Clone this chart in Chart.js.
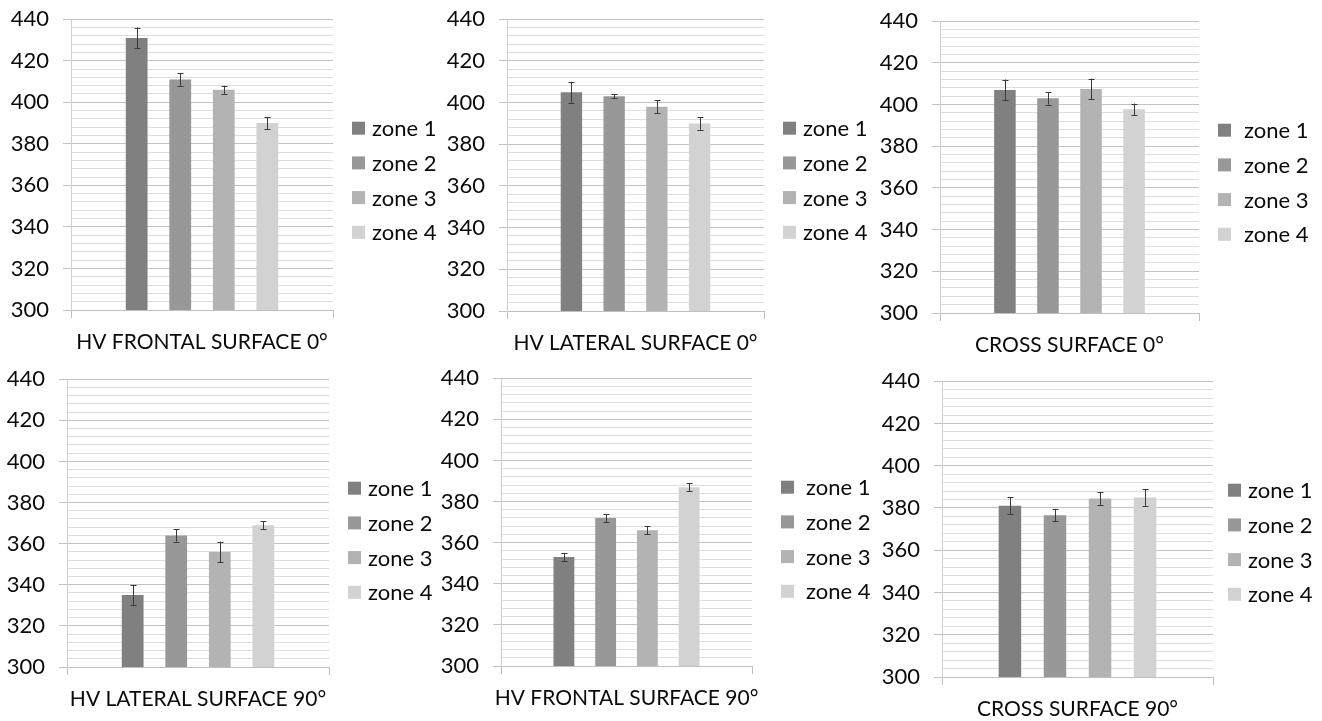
<!DOCTYPE html>
<html><head><meta charset="utf-8">
<script src="https://cdn.jsdelivr.net/npm/chart.js@4.4.1/dist/chart.umd.min.js"></script>
<style>
html,body{margin:0;padding:0;background:#fff;width:1322px;height:721px;overflow:hidden;}
.panel{position:absolute;}
</style></head><body>
<script>
// ---- data ----
const zones = ["zone 1", "zone 2", "zone 3", "zone 4"];
const panelTitles = ["HV FRONTAL SURFACE 0°", "HV LATERAL SURFACE 0°", "CROSS SURFACE 0°",
                     "HV LATERAL SURFACE 90°", "HV FRONTAL SURFACE 90°", "CROSS SURFACE 90°"];
const frontal0 = [431, 411, 406, 390];
const frontal0Err = [5, 3, 2, 3];
const lateral0 = [405, 403, 398, 390];
const lateral0Err = [5, 1, 3, 3];
const cross0 = [407, 403, 407.5, 397.7];
const cross0Err = [5, 3, 5, 2.8];
const lateral90 = [335, 364, 356, 369];
const lateral90Err = [5, 3, 5, 2];
const frontal90 = [353, 372, 366, 387];
const frontal90Err = [2, 2, 2, 2];
const cross90 = [381, 376.6, 384.5, 385];
const cross90Err = [4, 3, 3, 4];
const yMin = 300, yMax = 440, yMajor = 20, yMinor = 4;

const zoneColors = ["#808080", "#989898", "#b3b3b3", "#d2d2d2"];

const panelValues = [frontal0, lateral0, cross0, lateral90, frontal90, cross90];
const panelErrors = [frontal0Err, lateral0Err, cross0Err, lateral90Err, frontal90Err, cross90Err];

// ---- layout (plot area boxes in page pixels + legend placement) ----
const plotBoxes = [
  {l: 71,    r: 333,    t: 19,    b: 310,   lgX: 19, lgGap: 20},
  {l: 506.7, r: 763.7,  t: 19.3,  b: 311,   lgX: 19, lgGap: 20},
  {l: 940.3, r: 1199.3, t: 21.3,  b: 312.7, lgX: 19, lgGap: 26},
  {l: 67,    r: 329,    t: 379,   b: 667.3, lgX: 19, lgGap: 20},
  {l: 501,   r: 751.7,  t: 378.3, b: 665.7, lgX: 29, lgGap: 25},
  {l: 942,   r: 1212.7, t: 381.3, b: 677.3, lgX: 15, lgGap: 20}
];
const AXW = 70, XAXH = 50, RIGHTPAD = 130;
const FONT = "Lato, 'Open Sans', sans-serif";
const TEXT = '#0a0a0a';

const errorBarPlugin = {
  id: 'errorBars',
  afterDatasetsDraw(chart) {
    const ctx = chart.ctx, ys = chart.scales.y;
    const errs = chart.options.plugins.errorBars.errors;
    ctx.save();
    ctx.strokeStyle = '#3a3a3a';
    ctx.lineWidth = 1;
    chart.data.datasets.forEach((ds, i) => {
      const meta = chart.getDatasetMeta(i);
      meta.data.forEach((bar, j) => {
        const v = ds.data[j], e = errs[i];
        const x = Math.round(bar.x) + 0.5;
        const yt = ys.getPixelForValue(v + e), yb = ys.getPixelForValue(v - e);
        ctx.beginPath();
        ctx.moveTo(x, yt); ctx.lineTo(x, yb);
        ctx.moveTo(x - 3, Math.round(yt) + 0.5); ctx.lineTo(x + 3, Math.round(yt) + 0.5);
        ctx.moveTo(x - 3, Math.round(yb) + 0.5); ctx.lineTo(x + 3, Math.round(yb) + 0.5);
        ctx.stroke();
      });
    });
    ctx.restore();
  }
};

const sideLegendPlugin = {
  id: 'sideLegend',
  afterDraw(chart) {
    const o = chart.options.plugins.sideLegend;
    const ctx = chart.ctx, ca = chart.chartArea;
    ctx.save();
    ctx.font = "22px " + FONT;
    ctx.textBaseline = 'middle';
    chart.data.datasets.forEach((ds, i) => {
      const cy = ca.top + 109 + i * 34.7;
      const x0 = ca.right + o.x;
      ctx.fillStyle = ds.backgroundColor;
      ctx.fillRect(x0, cy - 6.5, 13, 13);
      ctx.fillStyle = TEXT;
      ctx.fillText(ds.label, x0 + o.gap, cy + 1);
    });
    ctx.restore();
  }
};

plotBoxes.forEach((p, k) => {
  const cv = document.createElement('canvas');
  let w = Math.round((p.r - p.l) + AXW + RIGHTPAD), h = Math.round((p.b - p.t) + 20 + XAXH);
  cv.className = 'panel';
  cv.style.width = w + 'px'; cv.style.height = h + 'px';
  cv.width = w; cv.height = h;
  document.body.appendChild(cv);

  const chart = new Chart(cv, {
    type: 'bar',
    data: {
      labels: [panelTitles[k]],
      datasets: zones.map((z, i) => ({
        label: z,
        data: [panelValues[k][i]],
        backgroundColor: zoneColors[i],
        borderWidth: 0,
        barPercentage: 0.5,
        categoryPercentage: 0.665
      }))
    },
    options: {
      responsive: false,
      maintainAspectRatio: false,
      animation: false,
      layout: {padding: {top: 0, right: RIGHTPAD, left: 0, bottom: 0}},
      plugins: {
        legend: {display: false},
        tooltip: {enabled: false},
        errorBars: {errors: panelErrors[k]},
        sideLegend: {x: p.lgX, gap: p.lgGap}
      },
      scales: {
        x: {
          grid: {display: true, drawOnChartArea: false, tickLength: 8, color: '#bfbfbf'},
          border: {color: '#bfbfbf'},
          ticks: {color: TEXT, font: {family: FONT, size: 21}, padding: 12},
          afterFit: s => { s.height = XAXH; }
        },
        y: {
          min: yMin, max: yMax,
          grid: {
            color: c => (c.tick && c.tick.value % yMajor === 0) ? '#c2c2c2' : '#dedede',
            tickColor: c => (c.tick && c.tick.value % yMajor === 0) ? '#c2c2c2' : 'rgba(0,0,0,0)',
            tickLength: 8
          },
          border: {color: '#d0d0d0'},
          ticks: {
            stepSize: yMinor, autoSkip: false, padding: 14,
            color: TEXT, font: {family: FONT, size: 22},
            callback: v => (v % yMajor === 0 ? String(v) : '')
          },
          afterFit: s => { s.width = AXW; }
        }
      }
    },
    plugins: [errorBarPlugin, sideLegendPlugin]
  });

  // fit the plot area to the intended box, then place the canvas
  for (let it = 0; it < 3; it++) {
    const ca = chart.chartArea;
    const dw = (p.r - p.l) - (ca.right - ca.left);
    const dh = (p.b - p.t) - (ca.bottom - ca.top);
    if (Math.abs(dw) < 0.5 && Math.abs(dh) < 0.5) break;
    w = Math.round(w + dw); h = Math.round(h + dh);
    chart.resize(w, h);
  }
  const ca = chart.chartArea;
  cv.style.left = (p.l - ca.left) + 'px';
  cv.style.top = (p.t - ca.top) + 'px';
});
</script>
</body></html>
